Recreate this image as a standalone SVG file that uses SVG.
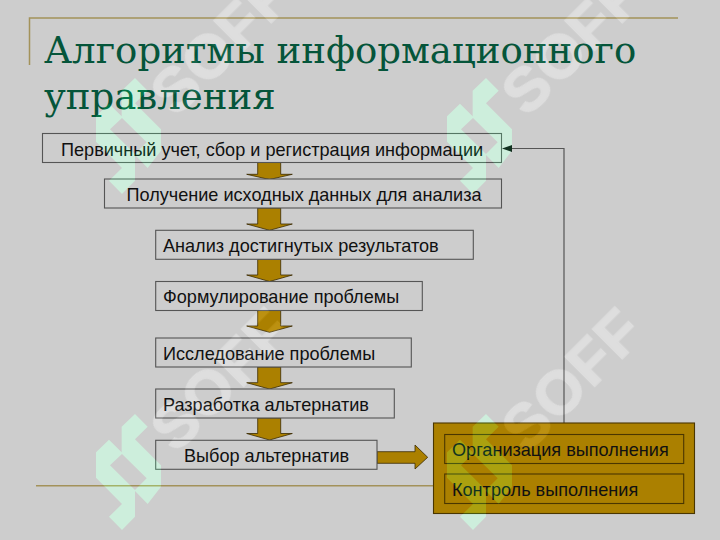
<svg xmlns="http://www.w3.org/2000/svg" width="720" height="540" viewBox="0 0 720 540">
<style>
text{font-family:"Liberation Sans",Arial,sans-serif}
.t{font-size:18.1px;fill:#111}
.h{font-family:"DejaVu Serif","Liberation Serif",serif;font-size:37.1px;fill:#05553a}
.b{fill:#cdcdcd;stroke:#555;stroke-width:1.1}
.i{fill:#ab8000;stroke:#4a3600;stroke-width:1.1}
.a{fill:#ab8000;stroke:#3a2a00;stroke-width:.8}
.r{fill:none;stroke:#a3925a;stroke-width:1.5}
.w{mix-blend-mode:plus-lighter}
.l{fill:#00210f;fill-rule:evenodd}
.s{fill:#111;stroke:#111;stroke-width:1.5px;font-weight:700;font-size:62px;letter-spacing:1px}
</style>
<defs>
<path id="logo" transform="scale(.3333)" d="M135 27L173 65L135 103L213 181V245L173 297L135 258V335L96 375L57 335L96 297L18 218V142L57 104L95 142V65ZM96 147L60 181L135 255L170 220Z"/>
</defs>
<rect width="720" height="540" fill="#cdcdcd"/>
<g id="frame">
<path class="r" d="M29.5 65V18H678"/>
<path class="r" d="M36 485.7H434"/>
</g>
<text id="title" class="h"><tspan x="44" y="62.5">Алгоритмы информационного</tspan><tspan x="44" y="108.5">управления</tspan></text>
<g id="connectors">
<path class="a" d="M257.7 162.5H280.7V174.3H292.3L269.5 179.5L246.7 174.3H257.7Z"/>
<path class="a" d="M257.7 208H280.7V224H292.3L269.5 230.3L246.7 224H257.7Z"/>
<path class="a" d="M257.7 259.3H280.7V275H292.3L269.5 281.5L246.7 275H257.7Z"/>
<path class="a" d="M257.7 310H280.7V326H292.3L269.5 332.3L246.7 326H257.7Z"/>
<path class="a" d="M257.7 367H280.7V382.7H292.3L269.5 389L246.7 382.7H257.7Z"/>
<path class="a" d="M257.7 418H280.7V433.5H292.3L269.5 440L246.7 433.5H257.7Z"/>
<path class="a" d="M377 451.7H415V445L427.7 457.3L415 469V463.3H377Z"/>
<path d="M564 423V148.5H510" fill="none" stroke="#555" stroke-width="1.2"/>
<path d="M502 148.5L512 145V152Z" fill="#111"/>
</g>
<g id="n1"><rect class="b" x="42.5" y="133.5" width="459" height="29"/><text class="t" x="61" y="156">Первичный учет, сбор и регистрация информации</text></g>
<g id="n2"><rect class="b" x="104.5" y="179" width="397" height="29"/><text class="t" x="126.5" y="201">Получение исходных данных для анализа</text></g>
<g id="n3"><rect class="b" x="155.7" y="230.3" width="317.6" height="29"/><text class="t" x="163" y="252">Анализ достигнутых результатов</text></g>
<g id="n4"><rect class="b" x="155.7" y="281.5" width="266.6" height="29"/><text class="t" x="163" y="302.7">Формулирование проблемы</text></g>
<g id="n5"><rect class="b" x="155.7" y="338" width="255.6" height="29"/><text class="t" x="163" y="360">Исследование проблемы</text></g>
<g id="n6"><rect class="b" x="155.7" y="389" width="238.6" height="29"/><text class="t" x="163" y="410.7">Разработка альтернатив</text></g>
<g id="n7"><rect class="b" x="155.7" y="440.3" width="221.3" height="29"/><text class="t" x="184" y="461.7">Выбор альтернатив</text></g>
<g id="n8">
<rect class="i" x="433.5" y="423" width="261" height="90.5"/>
<rect class="i" x="444.7" y="434.5" width="239" height="29"/><text class="t" x="452" y="455.7">Организация выполнения</text>
<rect class="i" x="444.7" y="474" width="239" height="29.5"/><text class="t" x="452" y="495.7">Контроль выполнения</text>
</g>
<g id="watermark" class="w">
<use class="l" href="#logo" x="90" y="69"/>
<use class="l" href="#logo" x="441" y="69"/>
<use class="l" href="#logo" x="90" y="405"/>
<use class="l" href="#logo" x="441" y="405"/>
<text class="s" transform="translate(527 454) rotate(-45)">SOFF</text>
<text class="s" transform="translate(176 118) rotate(-45)">SOFF</text>
<text class="s" transform="translate(527 118) rotate(-45)">SOFF</text>
<text class="s" transform="translate(176 454) rotate(-45)">SOFF</text>
</g>
</svg>
